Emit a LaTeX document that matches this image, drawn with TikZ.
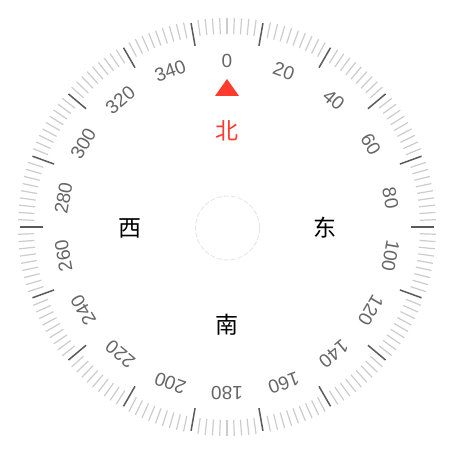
\documentclass[tikz,border=0pt]{standalone}
\usepackage{fontspec}
\setmainfont{Liberation Sans}
\newfontfamily\cjk{Noto Sans CJK SC}
\definecolor{minortick}{HTML}{CCCCCC}
\definecolor{majortick}{HTML}{5A5A5A}
\definecolor{labelgray}{HTML}{666666}
\definecolor{northred}{HTML}{FF3B30}
\definecolor{hubgray}{HTML}{E4E4E4}
\begin{document}
\begin{tikzpicture}[x=1pt,y=1pt,
  minortickline/.style={draw=minortick,line width=1.2pt},
  majortickline/.style={draw=majortick,line width=1.5pt},
  numlabel/.style={text=labelgray,inner sep=0pt,font=\fontsize{19}{19}\selectfont},
  dirlabel/.style={inner sep=0pt,font=\cjk\fontsize{23}{23}\selectfont},
  hubline/.style={draw=hubgray,line width=0.8pt,dash pattern=on 5pt off 2pt}]
\useasboundingbox (-227,-227) rectangle (227,227);
\fill[white] (-227,-227) rectangle (227,227);
\foreach \a in {0,2,...,358}{
  \pgfmathtruncatemacro\m{mod(\a,20)}
  \ifnum\m=10
    \draw[majortickline] (90-\a:184) -- (90-\a:207);
  \else
    \draw[minortickline] (90-\a:193) -- (90-\a:209);
  \fi
}
\foreach \a in {0,20,...,340}{
  \node[numlabel,rotate=-\a] (n\a) at (90-\a:166) {\a};
}
\fill[northred] (0,148) -- (12,131) -- (-12,131) -- cycle;
\node[dirlabel,text=northred] (north) at (0,96) {北};
\node[dirlabel] (east) at (97.5,-1) {东};
\node[dirlabel] (south) at (0,-98) {南};
\node[dirlabel] (west) at (-97,-1) {西};
\draw[hubline] (0.5,-1) circle (32);
\end{tikzpicture}
\end{document}
